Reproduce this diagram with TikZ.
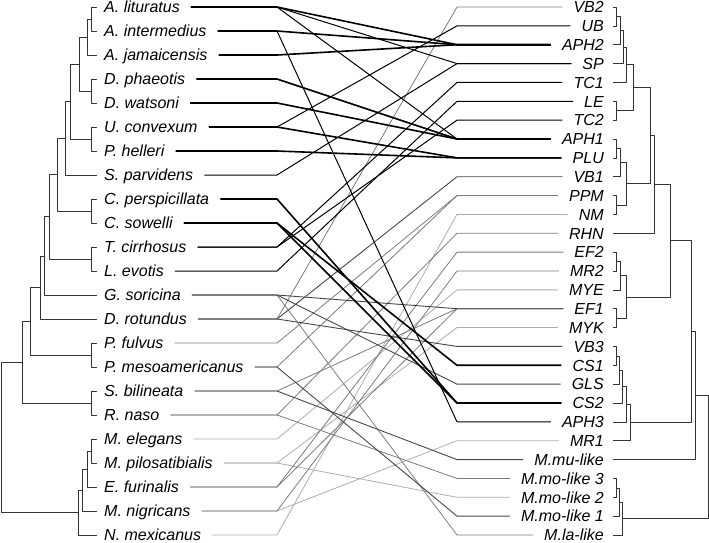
\documentclass[tikz,border=0pt]{standalone}
\usepackage{fontspec}
\setmainfont{Liberation Sans}
\usetikzlibrary{calc}

\newcommand{\labfont}{\fontsize{16}{18}\selectfont\itshape}
% bracket of a dendrogram: new node #1 at x=#2 over children #3 and #4
\newcommand{\joinnode}[4]{%
  \path let \p1=(#3), \p2=(#4) in coordinate (#1) at (#2pt,{0.5*\y1+0.5*\y2});
  \draw[treeline] (#3) -- (#3 -| #1) -- (#4 -| #1) -- (#4);
}
% host--parasite link
\newcommand{\tangle}[3][]{%
  \draw[#1] ([xshift=11pt]#2.east) -- (bl |- #2.east) -- (br |- #3.west) -- ([xshift=-11pt]#3.west);
}

\tikzset{
  leftlab/.style={anchor=west,inner sep=0pt,text height=11.5pt,text depth=0pt,font=\labfont},
  rightlab/.style={anchor=east,inner sep=0pt,text height=11.5pt,text depth=0pt,font=\labfont},
  treeline/.style={line width=0.7pt,black!80},
  linkA/.style={line width=1.6pt,black},
  linkB/.style={line width=1pt,black},
  linkC/.style={line width=0.9pt,black!72},
  linkD/.style={line width=0.8pt,black!52},
  linkE/.style={line width=0.8pt,black!32},
}

\begin{document}
\begin{tikzpicture}[x=1pt,y=-1pt,line join=round]
\useasboundingbox (0,0) rectangle (709,542);

\coordinate (bl) at (277,0);
\coordinate (br) at (457,0);

% hosts
\foreach \name/\txt [count=\i from 0] in {lit/A. lituratus,int/A. intermedius,jam/A. jamaicensis,
  pha/D. phaeotis,wat/D. watsoni,con/U. convexum,hel/P. helleri,par/S. parvidens,
  per/C. perspicillata,sow/C. sowelli,cir/T. cirrhosus,evo/L. evotis,sor/G. soricina,
  rot/D. rotundus,ful/P. fulvus,mes/P. mesoamericanus,bil/S. bilineata,nas/R. naso,
  ele/M. elegans,pil/M. pilosatibialis,fur/E. furinalis,nig/M. nigricans,mex/N. mexicanus}{
  \node[leftlab] (\name) at (104,{7+24*\i}) {\txt};
  \coordinate (t\name) at (97,{7+24*\i});
}

% parasites
\foreach \name/\txt [count=\j from 0] in {vb2/VB2,ub/UB,aph2/APH2,sp/SP,tc1/TC1,le/LE,tc2/TC2,
  aph1/APH1,plu/PLU,vb1/VB1,ppm/PPM,nm/NM,rhn/RHN,ef2/EF2,mr2/MR2,mye/MYE,ef1/EF1,myk/MYK,
  vb3/VB3,cs1/CS1,gls/GLS,cs2/CS2,aph3/APH3,mr1/MR1,mmu/M.mu-like,mmo3/M.mo-like 3,
  mmo2/M.mo-like 2,mmo1/M.mo-like 1,mla/M.la-like}{
  \node[rightlab] (\name) at (604,{7+18.857*\j}) {\txt};
  \coordinate (t\name) at (613,{7+18.857*\j});
}

% host tree
\joinnode{n1}{91.7}{tlit}{tint}
\joinnode{n2}{87.3}{n1}{tjam}
\joinnode{n3}{91.7}{tpha}{twat}
\joinnode{n4}{79}{n2}{n3}
\joinnode{n5}{91.7}{tcon}{thel}
\joinnode{n6}{70}{n4}{n5}
\joinnode{n7}{65.7}{n6}{tpar}
\joinnode{n8}{91.7}{tper}{tsow}
\joinnode{n9}{57.3}{n7}{n8}
\joinnode{n10}{91.7}{tcir}{tevo}
\joinnode{n11}{49}{n9}{n10}
\joinnode{n12}{44}{n11}{tsor}
\joinnode{n13}{40}{n12}{trot}
\joinnode{n14}{91.7}{tful}{tmes}
\joinnode{n15}{30.7}{n13}{n14}
\joinnode{n16}{91.7}{tbil}{tnas}
\joinnode{n17}{22.3}{n15}{n16}
\joinnode{n18}{91.7}{tele}{tpil}
\joinnode{n19}{87.3}{n18}{tfur}
\joinnode{n20}{82.7}{n19}{tnig}
\joinnode{n21}{78.3}{n20}{tmex}
\joinnode{n22}{1}{n17}{n21}

% parasite tree
\joinnode{r1}{616}{tvb2}{tub}
\joinnode{r2}{620}{r1}{taph2}
\joinnode{r3}{623.3}{r2}{tsp}
\joinnode{r4}{626.7}{r3}{ttc1}
\joinnode{r5}{616}{tle}{ttc2}
\joinnode{r6}{633.3}{r4}{r5}
\joinnode{r7}{616}{taph1}{tplu}
\joinnode{r8}{620}{r7}{tvb1}
\joinnode{r9}{616}{tppm}{tnm}
\joinnode{r10}{626.7}{r8}{r9}
\joinnode{r11}{650.7}{r6}{r10}
\joinnode{r12}{654}{r11}{trhn}
\joinnode{r14}{616}{tef2}{tmr2}
\joinnode{r15}{620}{r14}{tmye}
\joinnode{r16}{616}{tef1}{tmyk}
\joinnode{r17}{626.7}{r15}{r16}
\joinnode{r13}{670.7}{r12}{r17}
\joinnode{r18}{616}{tvb3}{tcs1}
\joinnode{r19}{619.3}{r18}{tgls}
\joinnode{r20}{622.7}{r19}{tcs2}
\joinnode{r21}{626.7}{r20}{taph3}
\joinnode{r22}{630}{r21}{tmr1}
\joinnode{r23}{691.7}{r13}{r22}
\joinnode{r24}{695}{r23}{tmmu}
\joinnode{r25}{616}{tmmo3}{tmmo2}
\joinnode{r26}{619.3}{r25}{tmmo1}
\joinnode{r27}{622.7}{r26}{tmla}
\joinnode{r28}{708.3}{r24}{r27}

% links, light ones first
\tangle[linkE]{ele}{mye}
\tangle[linkE]{pil}{myk}
\tangle[linkE]{pil}{mmo2}
\tangle[linkE]{nig}{mr1}
\tangle[linkE]{mex}{nm}

\tangle[linkD]{sor}{mla}
\tangle[linkD]{rot}{vb2}
\tangle[linkD]{ful}{ppm}
\tangle[linkD]{mes}{ppm}
\tangle[linkD]{bil}{ef1}
\tangle[linkD]{nas}{rhn}
\tangle[linkD]{nas}{mmo3}
\tangle[linkD]{fur}{ef1}
\tangle[linkD]{fur}{ef2}
\tangle[linkD]{nig}{mr2}

\tangle[linkC]{sor}{ef1}
\tangle[linkC]{sor}{gls}
\tangle[linkC]{rot}{vb1}
\tangle[linkC]{rot}{vb3}
\tangle[linkC]{mes}{mmo1}
\tangle[linkC]{bil}{mmu}

\tangle[linkB]{lit}{sp}
\tangle[linkB]{lit}{aph1}
\tangle[linkB]{int}{aph3}
\tangle[linkB]{con}{ub}
\tangle[linkB]{par}{sp}
\tangle[linkB]{cir}{tc1}
\tangle[linkB]{cir}{tc2}
\tangle[linkB]{evo}{le}

\tangle[linkA]{lit}{aph2}
\tangle[linkA]{int}{aph2}
\tangle[linkA]{jam}{aph2}
\tangle[linkA]{pha}{aph1}
\tangle[linkA]{wat}{aph1}
\tangle[linkA]{con}{plu}
\tangle[linkA]{hel}{plu}
\tangle[linkA]{per}{cs2}
\tangle[linkA]{sow}{cs1}
\tangle[linkA]{sow}{cs2}

\end{tikzpicture}
\end{document}
